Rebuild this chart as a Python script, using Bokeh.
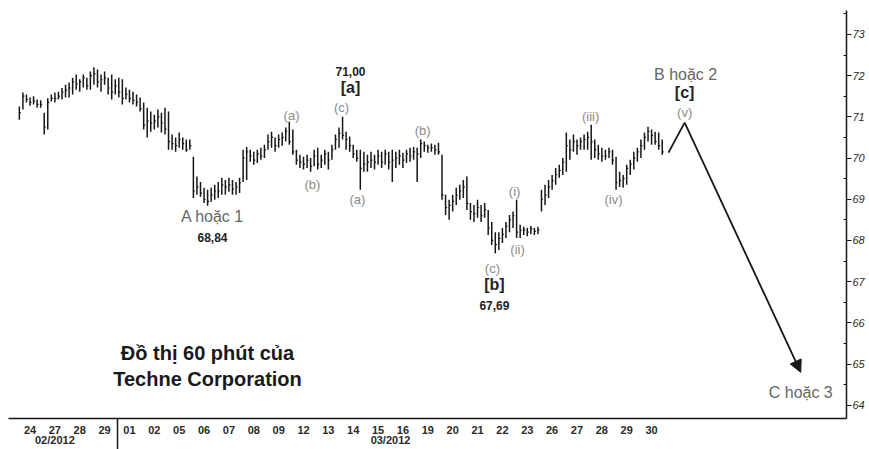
from bokeh.plotting import figure
from bokeh.models import FixedTicker, LinearAxis, Range1d, Label, Arrow, NormalHead
from bokeh.embed import file_html
from bokeh.resources import INLINE

# ---- data -----------------------------------------------------------------
day_labels = ["24", "27", "28", "29", "01", "02", "05", "06", "07", "08", "09",
              "12", "13", "14", "15", "16", "19", "20", "21", "22", "23",
              "26", "27", "28", "29", "30"]
month_labels = ["02/2012", "03/2012"]
price_ticks = [64, 65, 66, 67, 68, 69, 70, 71, 72, 73]

# hourly bars (7 per trading day)
lows = [
    [70.93, 71.18, 71.35, 71.27, 71.30, 71.22, 71.22],
    [70.57, 70.69, 71.37, 71.35, 71.42, 71.42, 71.47],
    [71.47, 71.54, 71.66, 71.61, 71.71, 71.66, 71.66],
    [71.78, 71.71, 71.61, 71.78, 71.54, 71.42, 71.54],
    [71.47, 71.30, 71.42, 71.35, 71.30, 71.25, 71.13],
    [70.69, 70.50, 70.64, 70.69, 70.74, 70.62, 70.57],
    [70.20, 70.20, 70.15, 70.25, 70.20, 70.15, 70.20],
    [69.03, 69.11, 69.06, 68.91, 68.84, 68.94, 68.99],
    [69.03, 69.11, 69.11, 69.18, 69.11, 69.11, 69.15],
    [69.42, 69.47, 69.91, 69.84, 69.88, 69.96, 70.00],
    [70.20, 70.25, 70.15, 70.25, 70.30, 70.40, 70.32],
    [70.08, 69.84, 69.76, 69.72, 69.76, 69.67, 69.80],
    [69.72, 69.76, 69.84, 69.72, 69.96, 70.20, 70.25],
    [70.45, 70.20, 70.15, 70.00, 69.91, 69.23, 69.67],
    [69.67, 69.76, 69.72, 69.84, 69.76, 69.84, 69.72],
    [69.42, 69.76, 69.84, 69.76, 69.88, 69.91, 69.96],
    [69.42, 70.00, 70.15, 70.13, 70.15, 70.08, 70.08],
    [68.99, 68.62, 68.50, 68.70, 68.86, 68.99, 69.03],
    [68.74, 68.50, 68.45, 68.55, 68.45, 68.55, 68.13],
    [67.89, 67.69, 67.77, 67.94, 68.06, 68.20, 68.30],
    [68.06, 68.06, 68.13, 68.10, 68.15, 68.13, 68.15],
    [68.70, 68.86, 69.03, 69.23, 69.35, 69.52, 69.59],
    [69.67, 69.96, 70.15, 70.08, 70.20, 70.20, 70.20],
    [69.96, 70.00, 69.96, 69.91, 69.96, 70.00, 69.84],
    [69.23, 69.30, 69.28, 69.35, 69.59, 69.72, 69.91],
    [70.00, 70.20, 70.40, 70.32, 70.32, 70.20, 70.08],
]
highs = [
    [71.25, 71.59, 71.54, 71.47, 71.50, 71.42, 71.40],
    [71.10, 71.45, 71.54, 71.59, 71.61, 71.70, 71.78],
    [71.83, 71.95, 72.03, 71.91, 72.03, 71.95, 72.10],
    [72.20, 72.15, 72.03, 72.10, 71.95, 72.03, 71.91],
    [71.95, 71.91, 71.71, 71.66, 71.61, 71.54, 71.47],
    [71.35, 71.22, 71.13, 71.05, 71.18, 71.10, 71.22],
    [71.13, 70.57, 70.50, 70.62, 70.50, 70.45, 70.45],
    [70.03, 69.55, 69.42, 69.28, 69.23, 69.28, 69.35],
    [69.42, 69.52, 69.47, 69.52, 69.47, 69.42, 69.52],
    [70.20, 70.27, 70.20, 70.15, 70.20, 70.25, 70.32],
    [70.57, 70.64, 70.50, 70.57, 70.62, 70.74, 70.88],
    [70.69, 70.20, 70.08, 70.03, 70.08, 70.00, 70.20],
    [70.25, 70.08, 70.20, 70.15, 70.32, 70.57, 70.74],
    [71.00, 70.64, 70.52, 70.32, 70.20, 70.20, 70.15],
    [70.08, 70.15, 70.08, 70.20, 70.15, 70.20, 70.15],
    [70.20, 70.15, 70.20, 70.13, 70.20, 70.25, 70.27],
    [70.25, 70.45, 70.40, 70.32, 70.35, 70.32, 70.37],
    [70.08, 69.11, 68.99, 69.11, 69.28, 69.35, 69.47],
    [69.55, 68.91, 68.86, 68.99, 68.86, 68.91, 68.74],
    [68.45, 68.20, 68.20, 68.30, 68.45, 68.62, 68.70],
    [68.99, 68.38, 68.33, 68.30, 68.35, 68.30, 68.33],
    [69.23, 69.35, 69.47, 69.59, 69.76, 69.84, 70.00],
    [70.62, 70.45, 70.57, 70.45, 70.50, 70.57, 70.64],
    [70.81, 70.45, 70.32, 70.25, 70.20, 70.25, 70.20],
    [70.03, 69.67, 69.59, 69.84, 69.96, 70.15, 70.25],
    [70.45, 70.62, 70.76, 70.69, 70.64, 70.62, 70.45],
]
closes = [
    [71.10, 71.50, 71.42, 71.35, 71.38, 71.30, 71.30],
    [70.75, 71.35, 71.45, 71.45, 71.50, 71.60, 71.65],
    [71.70, 71.85, 71.80, 71.85, 71.95, 71.75, 72.00],
    [72.05, 71.85, 71.90, 71.95, 71.70, 71.60, 71.75],
    [71.60, 71.45, 71.55, 71.45, 71.40, 71.35, 71.20],
    [70.80, 70.90, 70.85, 70.90, 71.00, 70.85, 70.70],
    [70.40, 70.35, 70.30, 70.45, 70.35, 70.20, 70.30],
    [69.20, 69.30, 69.15, 69.00, 68.95, 69.10, 69.20],
    [69.20, 69.35, 69.30, 69.35, 69.25, 69.30, 69.40],
    [70.00, 70.15, 70.05, 69.95, 70.10, 70.05, 70.20],
    [70.40, 70.50, 70.30, 70.45, 70.50, 70.65, 70.40],
    [70.15, 69.95, 69.90, 69.85, 69.95, 69.80, 70.05],
    [69.85, 69.95, 70.10, 69.95, 70.20, 70.45, 70.60],
    [70.55, 70.45, 70.30, 70.10, 70.00, 69.75, 69.85],
    [69.90, 69.95, 69.90, 70.05, 69.90, 70.10, 69.90],
    [69.95, 70.00, 70.05, 69.95, 70.10, 70.05, 70.15],
    [70.10, 70.35, 70.30, 70.25, 70.25, 70.20, 70.15],
    [69.10, 68.80, 68.85, 68.95, 69.10, 69.20, 69.30],
    [68.90, 68.70, 68.65, 68.80, 68.60, 68.75, 68.30],
    [68.00, 67.90, 68.05, 68.15, 68.35, 68.50, 68.60],
    [68.20, 68.25, 68.25, 68.20, 68.28, 68.22, 68.25],
    [69.00, 69.10, 69.30, 69.45, 69.60, 69.70, 69.90],
    [70.30, 70.20, 70.40, 70.30, 70.40, 70.45, 70.50],
    [70.40, 70.20, 70.10, 70.05, 70.05, 70.15, 69.95],
    [69.40, 69.45, 69.50, 69.75, 69.85, 70.00, 70.15],
    [70.30, 70.50, 70.65, 70.55, 70.40, 70.30, 70.15],
]

# projected path (x in trading-day units, y in price)
proj_x = [25.68, 26.33, 31.0]
proj_y = [70.13, 70.86, 64.80]

# ---- flatten bars ---------------------------------------------------------
BARS = 7
xs, lo, hi, cl = [], [], [], []
for d in range(len(day_labels)):
    for k in range(BARS):
        xs.append(d - 0.5 + (k + 0.5) / BARS)
        lo.append(lows[d][k])
        hi.append(highs[d][k])
        cl.append(closes[d][k])

# ---- figure ---------------------------------------------------------------
p = figure(width=869, height=449, output_backend="svg", toolbar_location=None,
           x_range=Range1d(-0.865, 32.84), y_range=Range1d(63.68, 73.58),
           y_axis_location="right",
           min_border_left=8, min_border_right=23, min_border_top=10,
           min_border_bottom=31)
p.outline_line_color = None
p.grid.visible = False
p.background_fill_color = "white"
p.border_fill_color = "white"

INK = "#161616"

# bars
p.segment(x0=xs, y0=lo, x1=xs, y1=hi, line_color=INK, line_width=1.5)
p.segment(x0=xs, y0=cl, x1=[x + 0.06 for x in xs], y1=cl, line_color=INK, line_width=1.2)

# projection
p.line(proj_x[:2], proj_y[:2], line_color=INK, line_width=1.8)
p.add_layout(Arrow(end=NormalHead(size=12, fill_color=INK, line_color=INK),
                   x_start=proj_x[1], y_start=proj_y[1],
                   x_end=proj_x[2], y_end=proj_y[2],
                   line_color=INK, line_width=1.8))

# x axis (days)
xa = p.xaxis[0]
xa.ticker = FixedTicker(ticks=list(range(len(day_labels))), minor_ticks=[3.5])
xa.major_label_overrides = {i: lab for i, lab in enumerate(day_labels)}
xa.major_tick_out = 0
xa.major_tick_in = 0
xa.minor_tick_in = 0
xa.minor_tick_out = 31
xa.minor_tick_line_width = 1.5
xa.minor_tick_line_color = INK
xa.axis_line_width = 1.5
xa.axis_line_color = INK
xa.major_label_standoff = -24
xa.major_label_text_font = "Liberation Sans"
xa.major_label_text_font_size = "11px"
xa.major_label_text_font_style = "bold"
xa.major_label_text_color = "#2a2a2a"

# month axis
ma = LinearAxis(ticker=FixedTicker(ticks=[1, 14.5]),
                major_label_overrides={1: month_labels[0], 14.5: month_labels[1]})
ma.axis_line_color = None
ma.major_tick_line_color = None
ma.minor_tick_line_color = None
ma.major_tick_out = 0
ma.major_tick_in = 0
ma.minor_tick_out = 0
ma.minor_tick_in = 0
ma.major_label_standoff = -3
ma.major_label_text_font = "Liberation Sans"
ma.major_label_text_font_size = "11px"
ma.major_label_text_font_style = "bold"
ma.major_label_text_color = "#2a2a2a"
p.add_layout(ma, "below")

# y axis (price, right)
ya = p.yaxis[0]
ya.ticker = FixedTicker(ticks=price_ticks, minor_ticks=[t + 0.5 for t in [63] + price_ticks])
ya.major_tick_out = 5
ya.major_tick_in = 0
ya.minor_tick_in = 3
ya.minor_tick_out = 0
ya.axis_line_width = 1.5
ya.axis_line_color = INK
ya.major_tick_line_color = INK
ya.minor_tick_line_color = INK
ya.major_label_standoff = 1
ya.major_label_text_font = "Liberation Sans"
ya.major_label_text_font_size = "11px"
ya.major_label_text_font_style = "italic"
ya.major_label_text_color = "#2a2a2a"

# ---- annotations ----------------------------------------------------------
GRAY = "#8a8a8a"
LGRAY = "#666666"
notes = [
    # text, x, y, size, style, color
    ("71,00", 12.89, 72.10, "12px", "bold", "#222222"),
    ("[a]", 12.89, 71.71, "16px", "bold", "#222222"),
    ("(c)", 12.53, 71.22, "13px", "normal", GRAY),
    ("(a)", 10.52, 71.03, "13px", "normal", GRAY),
    ("(b)", 11.36, 69.35, "13px", "normal", GRAY),
    ("(a)", 13.17, 68.99, "13px", "normal", GRAY),
    ("(b)", 15.79, 70.66, "13px", "normal", GRAY),
    ("A hoặc 1", 7.34, 68.57, "16px", "normal", LGRAY),
    ("68,84", 7.34, 68.06, "12px", "bold", "#222222"),
    ("(i)", 19.49, 69.18, "13px", "normal", GRAY),
    ("(ii)", 19.61, 67.77, "13px", "normal", GRAY),
    ("(c)", 18.60, 67.33, "13px", "normal", GRAY),
    ("[b]", 18.68, 66.92, "16px", "bold", "#222222"),
    ("67,69", 18.68, 66.43, "12px", "bold", "#222222"),
    ("(iii)", 22.55, 71.00, "13px", "normal", GRAY),
    ("(iv)", 23.47, 68.99, "13px", "normal", GRAY),
    ("B hoặc 2", 26.37, 72.03, "16px", "normal", LGRAY),
    ("[c]", 26.33, 71.59, "16px", "bold", "#222222"),
    ("(v)", 26.33, 71.10, "13px", "normal", GRAY),
    ("C hoặc 3", 31.0, 64.31, "16px", "normal", LGRAY),
    ("Đồ thị 60 phút của", 7.14, 65.26, "20px", "bold", "#1a1a1a"),
    ("Techne Corporation", 7.14, 64.65, "20px", "bold", "#1a1a1a"),
]
for txt, x, y, size, style, color in notes:
    p.add_layout(Label(x=x, y=y, text=txt, text_align="center", text_baseline="middle",
                       text_font="Liberation Sans", text_font_size=size,
                       text_font_style=style, text_color=color))

open("out.html", "w").write(file_html(p, INLINE))
